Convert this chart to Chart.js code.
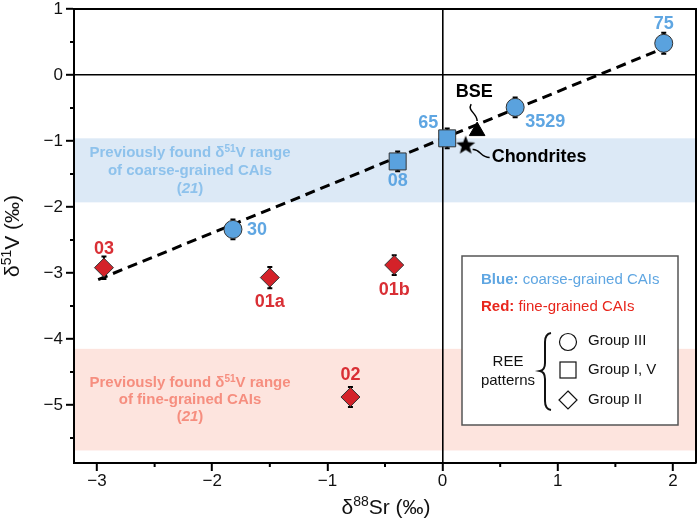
<!DOCTYPE html>
<html>
<head>
<meta charset="utf-8">
<script src="https://cdn.jsdelivr.net/npm/chart.js@4.4.1/dist/chart.umd.min.js"></script>
<style>
  html, body { margin: 0; padding: 0; background: #fff; }
  #wrap { width: 700px; height: 522px; }
</style>
</head>
<body>
<div id="wrap"><canvas id="c" width="700" height="522"></canvas></div>
<script>
// data
const coarseCircleNames = ['75', '3529', '30'];
const coarseCircleX = [1.92, 0.63, -1.82];
const coarseCircleY = [0.48, -0.49, -2.34];
const coarseCircleErr = [0.16, 0.15, 0.15];

const coarseSquareNames = ['65', '08'];
const coarseSquareX = [0.04, -0.39];
const coarseSquareY = [-0.96, -1.31];
const coarseSquareErr = [0.15, 0.15];

const fineNames = ['03', '01a', '01b', '02'];
const fineX = [-2.94, -1.50, -0.42, -0.80];
const fineY = [-2.92, -3.07, -2.88, -4.88];
const fineErr = [0.17, 0.16, 0.15, 0.15];

const bseX = [0.30];
const bseY = [-0.85];
const chondriteX = [0.20];
const chondriteY = [-1.07];

const fitX = [-2.99, 2.01];
const fitY = [-3.10, 0.47];

const coarseBand = [-1.93, -0.96];
const fineBand = [-5.69, -4.15];

const xTicks = [-3, -2, -1, 0, 1, 2];
const yTicks = [-5, -4, -3, -2, -1, 0, 1];
const xMinor = [-2.5, -1.5, -0.5, 0.5, 1.5];
const yMinor = [-5.5, -4.5, -3.5, -2.5, -1.5, -0.5, 0.5];

// label placement (pixels from the point)
const labelOffsets = {
  '75': [0, -19], '3529': [30, 15], '30': [24, 1],
  '65': [-19, -15], '08': [0, 20],
  '03': [0, -19], '01a': [0, 24], '01b': [0, 25], '02': [0, -22]
};

const FONT = '"Liberation Sans", Arial, Helvetica, sans-serif';
const BLUE = '#5aa2de';
const BLUE_TXT = '#5fa6e2';
const RED = '#d42229';
const RED_TXT = '#d92f35';

function pts(xs, ys) {
  return xs.map((x, i) => ({ x: x, y: ys[i] }));
}

// filled five-point star for the chondrites
const starImg = document.createElement('canvas');
starImg.width = 22;
starImg.height = 22;
(function () {
  const s = starImg.getContext('2d');
  s.beginPath();
  for (let i = 0; i < 10; i++) {
    const r = i % 2 === 0 ? 10 : 4.2;
    const a = -Math.PI / 2 + i * Math.PI / 5;
    s.lineTo(11 + r * Math.cos(a), 11 + r * Math.sin(a));
  }
  s.closePath();
  s.fillStyle = '#000';
  s.fill();
})();

function drawRich(ctx, parts, x, y, align) {
  let total = 0;
  parts.forEach(p => { ctx.font = p.font; p.w = ctx.measureText(p.t).width; total += p.w; });
  let cx = align === 'center' ? x - total / 2 : (align === 'right' ? x - total : x);
  ctx.textAlign = 'left';
  parts.forEach(p => {
    ctx.font = p.font;
    ctx.fillText(p.t, cx, y + (p.dy || 0));
    cx += p.w;
  });
}

function fmt(v) {
  return v < 0 ? '\u2212' + Math.abs(v) : String(v);
}

// no automatic label padding, the layout padding decides the plot box
function noPad(s) {
  s.paddingTop = 0; s.paddingBottom = 0; s.paddingLeft = 0; s.paddingRight = 0;
}

const figPlugin = {
  id: 'fig',
  beforeDraw(chart) {
    const { ctx, chartArea: a, scales: { x, y } } = chart;
    ctx.save();
    // previously found ranges
    ctx.fillStyle = '#dce9f6';
    let t = y.getPixelForValue(coarseBand[1]), b = y.getPixelForValue(coarseBand[0]);
    ctx.fillRect(a.left, t, a.right - a.left, b - t);
    ctx.fillStyle = '#fde4de';
    t = y.getPixelForValue(fineBand[1]); b = y.getPixelForValue(fineBand[0]);
    ctx.fillRect(a.left, t, a.right - a.left, b - t);

    ctx.textBaseline = 'middle';
    const bf = 'bold 15px ' + FONT, sf = 'bold 10px ' + FONT, itf = 'italic bold 15px ' + FONT;
    const cxp = 190;
    ctx.fillStyle = '#8ec2ec';
    drawRich(ctx, [{ t: 'Previously found \u03b4', font: bf }, { t: '51', font: sf, dy: -4 }, { t: 'V range', font: bf }], cxp, 153, 'center');
    drawRich(ctx, [{ t: 'of coarse-grained CAIs', font: bf }], cxp, 171, 'center');
    drawRich(ctx, [{ t: '(', font: bf }, { t: '21', font: itf }, { t: ')', font: bf }], cxp, 189, 'center');
    ctx.fillStyle = '#f68e7f';
    drawRich(ctx, [{ t: 'Previously found \u03b4', font: bf }, { t: '51', font: sf, dy: -4 }, { t: 'V range', font: bf }], cxp, 383, 'center');
    drawRich(ctx, [{ t: 'of fine-grained CAIs', font: bf }], cxp, 400, 'center');
    drawRich(ctx, [{ t: '(', font: bf }, { t: '21', font: itf }, { t: ')', font: bf }], cxp, 417, 'center');
    ctx.restore();
  },
  beforeDatasetsDraw(chart) {
    const { ctx, scales: { x, y } } = chart;
    ctx.save();
    ctx.strokeStyle = '#000';
    ctx.lineWidth = 2;
    const groups = [[coarseCircleX, coarseCircleY, coarseCircleErr], [coarseSquareX, coarseSquareY, coarseSquareErr], [fineX, fineY, fineErr]];
    groups.forEach(g => {
      g[0].forEach((xv, i) => {
        const px = x.getPixelForValue(xv);
        const p1 = y.getPixelForValue(g[1][i] + g[2][i]);
        const p2 = y.getPixelForValue(g[1][i] - g[2][i]);
        ctx.beginPath();
        ctx.moveTo(px, p1); ctx.lineTo(px, p2);
        ctx.moveTo(px - 2.5, p1); ctx.lineTo(px + 2.5, p1);
        ctx.moveTo(px - 2.5, p2); ctx.lineTo(px + 2.5, p2);
        ctx.stroke();
      });
    });
    ctx.restore();
  },
  afterDatasetsDraw(chart) {
    const { ctx, chartArea: a, scales: { x, y } } = chart;
    ctx.save();
    // frame top / right
    ctx.strokeStyle = '#000';
    ctx.lineWidth = 2;
    ctx.beginPath();
    ctx.moveTo(a.left, a.top); ctx.lineTo(a.right, a.top); ctx.lineTo(a.right, a.bottom);
    ctx.stroke();
    // minor ticks
    ctx.beginPath();
    xMinor.forEach(v => { const px = x.getPixelForValue(v); ctx.moveTo(px, a.bottom); ctx.lineTo(px, a.bottom + 4); });
    yMinor.forEach(v => { const py = y.getPixelForValue(v); ctx.moveTo(a.left, py); ctx.lineTo(a.left - 4, py); });
    ctx.stroke();

    // point labels
    ctx.font = 'bold 18px ' + FONT;
    ctx.textAlign = 'center';
    ctx.textBaseline = 'middle';
    const lab = (names, xs, ys, col) => {
      ctx.fillStyle = col;
      names.forEach((n, i) => {
        const o = labelOffsets[n];
        ctx.fillText(n, x.getPixelForValue(xs[i]) + o[0], y.getPixelForValue(ys[i]) + o[1]);
      });
    };
    lab(coarseCircleNames, coarseCircleX, coarseCircleY, BLUE_TXT);
    lab(coarseSquareNames, coarseSquareX, coarseSquareY, BLUE_TXT);
    lab(fineNames, fineX, fineY, RED_TXT);

    // BSE and chondrites callouts
    const bx = x.getPixelForValue(bseX[0]), by = y.getPixelForValue(bseY[0]);
    ctx.fillStyle = '#000';
    ctx.fillText('BSE', bx - 3, by - 39);
    ctx.lineWidth = 1.5;
    ctx.beginPath();
    ctx.moveTo(bx - 6, by - 27);
    ctx.bezierCurveTo(bx - 10, by - 20, bx, by - 18, bx, by - 10);
    ctx.stroke();
    const sx = x.getPixelForValue(chondriteX[0]), sy = y.getPixelForValue(chondriteY[0]);
    ctx.textAlign = 'left';
    ctx.fillText('Chondrites', sx + 26, sy + 11);
    ctx.beginPath();
    ctx.moveTo(sx + 7, sy + 4);
    ctx.bezierCurveTo(sx + 14, sy + 3, sx + 15, sy + 12, sx + 24, sy + 12);
    ctx.stroke();

    // axis titles
    ctx.fillStyle = '#111';
    ctx.textBaseline = 'middle';
    const tf = '21px ' + FONT, tsf = '14px ' + FONT;
    drawRich(ctx, [{ t: '\u03b4', font: tf }, { t: '88', font: tsf, dy: -6 }, { t: 'Sr (\u2030)', font: tf }], (a.left + a.right) / 2 + 1, 508, 'center');
    ctx.save();
    ctx.translate(13, (a.top + a.bottom) / 2);
    ctx.rotate(-Math.PI / 2);
    drawRich(ctx, [{ t: '\u03b4', font: tf }, { t: '51', font: tsf, dy: -6 }, { t: 'V (\u2030)', font: tf }], 0, 0, 'center');
    ctx.restore();

    // legend box
    ctx.fillStyle = '#fff';
    ctx.fillRect(462, 256, 216, 169);
    ctx.strokeStyle = '#555';
    ctx.lineWidth = 1.5;
    ctx.strokeRect(462, 256, 216, 169);
    const lf = '15px ' + FONT, lb = 'bold 15px ' + FONT;
    ctx.fillStyle = BLUE_TXT;
    drawRich(ctx, [{ t: 'Blue: ', font: lb }, { t: 'coarse-grained CAIs', font: lf }], 481, 280, 'left');
    ctx.fillStyle = '#e8261c';
    drawRich(ctx, [{ t: 'Red: ', font: lb }, { t: 'fine-grained CAIs', font: lf }], 481, 307, 'left');
    ctx.fillStyle = '#111';
    ctx.font = lf;
    ctx.textAlign = 'center';
    ctx.fillText('REE', 508, 362);
    ctx.fillText('patterns', 508, 381);
    ctx.textAlign = 'left';
    ctx.fillText('Group III', 588, 341);
    ctx.fillText('Group I, V', 588, 370);
    ctx.fillText('Group II', 588, 400);
    ctx.strokeStyle = '#111';
    ctx.lineWidth = 1.2;
    ctx.beginPath(); ctx.arc(568, 342, 8.5, 0, Math.PI * 2); ctx.stroke();
    ctx.strokeRect(560, 362, 16, 16);
    ctx.beginPath();
    ctx.moveTo(568, 391); ctx.lineTo(577, 400); ctx.lineTo(568, 409); ctx.lineTo(559, 400); ctx.closePath();
    ctx.stroke();
    // brace
    ctx.lineWidth = 2;
    ctx.beginPath();
    ctx.moveTo(551, 333);
    ctx.quadraticCurveTo(545, 334, 545, 342);
    ctx.lineTo(545, 363);
    ctx.quadraticCurveTo(545, 370, 540, 371);
    ctx.quadraticCurveTo(545, 372, 545, 379);
    ctx.lineTo(545, 401);
    ctx.quadraticCurveTo(545, 409, 551, 410);
    ctx.stroke();
    ctx.restore();
  }
};

const zeroGrid = {
  drawOnChartArea: true,
  color: c => (c.tick && c.tick.value === 0 ? '#000' : 'rgba(0,0,0,0)'),
  lineWidth: 1.6,
  tickColor: '#000',
  tickLength: 8,
  tickWidth: 2
};

new Chart(document.getElementById('c'), {
  type: 'scatter',
  data: {
    datasets: [
      {
        label: 'fit',
        data: pts(fitX, fitY),
        showLine: true,
        borderColor: '#000',
        borderWidth: 3,
        borderDash: [10, 6],
        pointRadius: 0,
        order: 10
      },
      {
        label: 'coarse III',
        data: pts(coarseCircleX, coarseCircleY),
        pointStyle: 'circle',
        pointRadius: 9,
        backgroundColor: BLUE,
        borderColor: '#333',
        borderWidth: 1,
        order: 1
      },
      {
        label: 'coarse I, V',
        data: pts(coarseSquareX, coarseSquareY),
        pointStyle: 'rect',
        pointRadius: 12,
        backgroundColor: BLUE,
        borderColor: '#333',
        borderWidth: 1,
        order: 1
      },
      {
        label: 'fine II',
        data: pts(fineX, fineY),
        pointStyle: 'rectRot',
        pointRadius: 9.5,
        backgroundColor: RED,
        borderColor: '#333',
        borderWidth: 1,
        order: 1
      },
      {
        label: 'BSE',
        data: pts(bseX, bseY),
        pointStyle: 'triangle',
        pointRadius: 9,
        backgroundColor: '#000',
        borderColor: '#000',
        borderWidth: 1,
        order: 1
      },
      {
        label: 'Chondrites',
        data: pts(chondriteX, chondriteY),
        pointStyle: starImg,
        pointRadius: 10,
        order: 1
      }
    ]
  },
  options: {
    responsive: false,
    animation: false,
    events: [],
    layout: { autoPadding: false, padding: { top: 9, right: 4, left: 0, bottom: 0 } },
    plugins: { legend: { display: false }, tooltip: { enabled: false } },
    scales: {
      x: {
        type: 'linear',
        min: -3.2,
        max: 2.2,
        afterBuildTicks: s => { s.ticks = xTicks.map(v => ({ value: v })); },
        afterFit: s => { s.height = 59; noPad(s); },
        grid: zeroGrid,
        border: { display: true, color: '#000', width: 2 },
        ticks: {
          padding: 2,
          color: '#111',
          font: { family: FONT, size: 17, lineHeight: 1 },
          callback: v => fmt(v)
        }
      },
      y: {
        type: 'linear',
        min: -5.88,
        max: 1,
        afterBuildTicks: s => { s.ticks = yTicks.map(v => ({ value: v })); },
        afterFit: s => { s.width = 74; noPad(s); },
        grid: zeroGrid,
        border: { display: true, color: '#000', width: 2 },
        ticks: {
          padding: 3,
          color: '#111',
          font: { family: FONT, size: 17, lineHeight: 1 },
          callback: v => fmt(v)
        }
      }
    }
  },
  plugins: [figPlugin]
});
</script>
</body>
</html>
